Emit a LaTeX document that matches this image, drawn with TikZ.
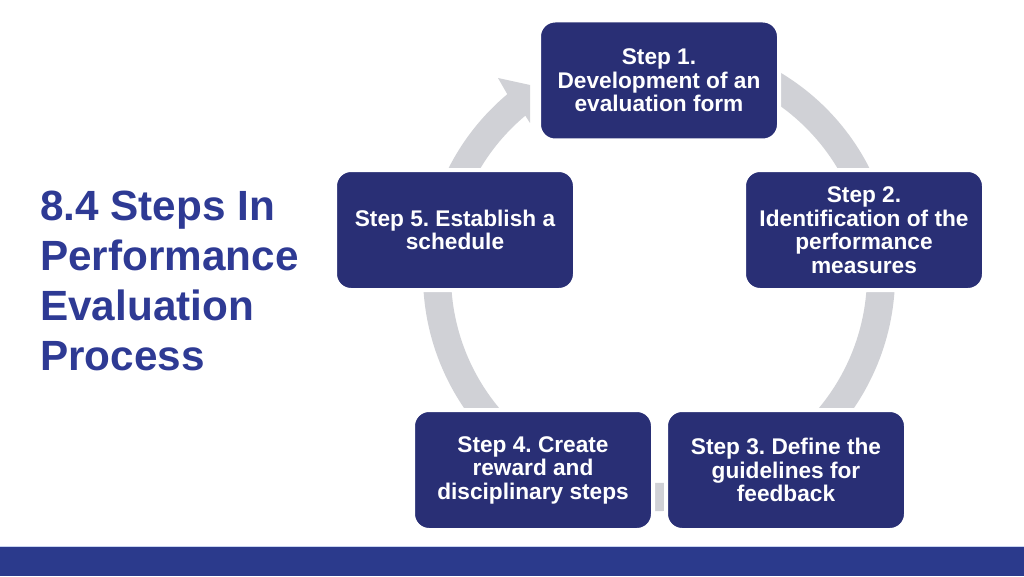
\documentclass[tikz,border=0pt]{standalone}
\usepackage{fontspec}
\setmainfont{Liberation Sans}
\frenchspacing
\definecolor{navy}{RGB}{41,47,117}
\definecolor{titleblue}{RGB}{46,58,148}
\definecolor{barblue}{RGB}{43,58,140}
\definecolor{barline}{RGB}{200,212,240}
\definecolor{ringgray}{RGB}{208,209,214}
\begin{document}
\begin{tikzpicture}[x=0.75pt,y=0.75pt,
  stepbox/.style={rectangle, rounded corners=12pt, fill=navy, draw=white,
    line width=3pt, minimum width=180pt, minimum height=90pt, inner sep=0pt,
    outer sep=0pt, text=white, align=center,
    font=\bfseries\fontsize{17}{17.6}\selectfont},
  titletext/.style={anchor=north west, inner sep=0pt, align=left,
    text=titleblue, font=\bfseries\fontsize{31.7}{37.5}\selectfont}]
\useasboundingbox (0,0) rectangle (1024,576);
\fill[white] (0,0) rectangle (1024,576);
% bottom bar
\fill[barblue] (0,0) rectangle (1024,29);
\fill[barline] (0,29) rectangle (1024,30.5);
% circular arrow
\fill[ringgray, shift={(659,301)}]
  (62:236) arc[start angle=62, end angle=-230, radius=236]
  -- (-161,197) -- (-129,190) -- (-129,152)
  -- (130:208) arc[start angle=-230, end angle=62, radius=208] -- cycle;
% step boxes
\node[stepbox] (s1) at (659,495.5) {Step 1.\\Development of an\\evaluation form};
\node[stepbox] (s2) at (864,346) {Step 2.\\Identification of the\\performance\\measures};
\node[stepbox] (s3) at (786,106) {Step 3. Define the\\guidelines for\\feedback};
\node[stepbox] (s4) at (533,106) {Step 4. Create\\reward and\\disciplinary steps};
\node[stepbox] (s5) at (455,346) {Step 5. Establish a\\schedule};
% title
\node[titletext] (title) at (40,385) {8.4 Steps In\\Performance\\Evaluation\\Process};
\end{tikzpicture}
\end{document}
